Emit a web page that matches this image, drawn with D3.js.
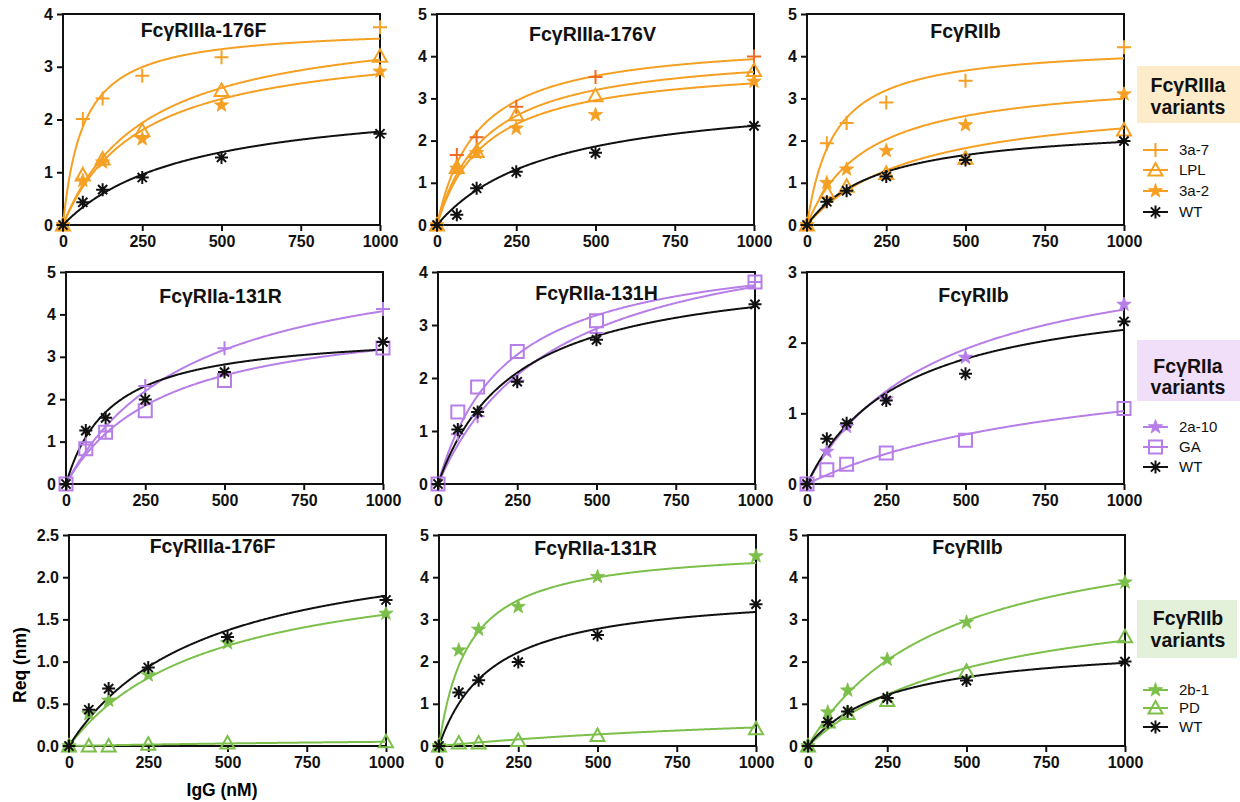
<!DOCTYPE html>
<html>
<head>
<meta charset="utf-8">
<script src="https://cdn.jsdelivr.net/npm/d3@7"></script>
<style>
  body { margin: 0; background: #fff; }
  svg { font-family: "Liberation Sans", Arial, sans-serif; }
</style>
</head>
<body>
<svg id="chart" width="1240" height="802"></svg>
<script>
// IgG concentrations (nM) and x ticks
const conc = [0, 62.5, 125, 250, 500, 1000];
const xTicks = [0, 250, 500, 750, 1000];

const panelTitles = ["FcγRIIIa-176F", "FcγRIIIa-176V", "FcγRIIb",
                     "FcγRIIa-131R", "FcγRIIa-131H", "FcγRIIb",
                     "FcγRIIIa-176F", "FcγRIIa-131R", "FcγRIIb"];
const panelYMax = [4, 5, 5, 5, 4, 3, 2.5, 5, 5];
const panelYStep = [1, 1, 1, 1, 1, 1, 0.5, 1, 1];

// row 1 : FcγRIIIa variants
const namesIIIa = ["3a-7", "LPL", "3a-2", "WT"];
const p176F = [[0, 2.01, 2.40, 2.83, 3.18, 3.75], [0, 0.95, 1.25, 1.79, 2.55, 3.20],
               [0, 0.84, 1.19, 1.63, 2.27, 2.91], [0, 0.43, 0.67, 0.90, 1.28, 1.73]];
const p176V = [[0, 1.66, 2.08, 2.80, 3.51, 3.99], [0, 1.36, 1.74, 2.61, 3.06, 3.66],
               [0, 1.34, 1.71, 2.29, 2.61, 3.40], [0, 0.24, 0.87, 1.26, 1.71, 2.35]];
const pIIb_a = [[0, 1.94, 2.42, 2.90, 3.42, 4.21], [0, 0.78, 0.92, 1.22, 1.58, 2.25],
                [0, 1.00, 1.32, 1.76, 2.37, 3.10], [0, 0.55, 0.81, 1.15, 1.54, 1.99]];
// one-site fits (Bmax, Kd)
const fit176F_bmax = [3.76, 3.95, 3.56, 2.47], fit176F_kd = [64, 260, 245, 395];
const fit176V_bmax = [4.43, 4.19, 3.88, 3.19], fit176V_kd = [127, 155, 156, 357];
const fitIIb_a_bmax = [4.29, 3.09, 3.56, 2.42], fitIIb_a_kd = [86, 348, 189, 230];

// row 2 : FcγRIIa variants
const namesIIa = ["2a-10", "GA", "WT"];
const p131R = [[0, 0.93, 1.24, 2.31, 3.20, 4.13], [0, 0.83, 1.22, 1.73, 2.44, 3.21],
               [0, 1.26, 1.56, 1.99, 2.64, 3.35]];
const p131H = [[0, 0.94, 1.28, 1.95, 2.85, 3.81], [0, 1.36, 1.83, 2.50, 3.08, 3.81],
               [0, 1.03, 1.36, 1.93, 2.72, 3.39]];
const pIIb_b = [[0, 0.46, 0.81, 1.20, 1.79, 2.54], [0, 0.20, 0.28, 0.44, 0.62, 1.07],
                [0, 0.64, 0.86, 1.18, 1.56, 2.30]];
const fit131R_bmax = [5.72, 4.16, 3.62], fit131R_kd = [403, 312, 142];
const fit131H_bmax = [5.10, 4.57, 4.16], fit131H_kd = [370, 218, 245];
const fitIIb_b_bmax = [3.49, 1.95, 2.84], fitIIb_b_kd = [414, 890, 302];

// row 3 : FcγRIIb variants
const namesIIb = ["2b-1", "PD", "WT"];
const q176F = [[0, 0.38, 0.54, 0.84, 1.22, 1.57], [0, 0.00, 0.00, 0.02, 0.035, 0.05],
               [0, 0.43, 0.68, 0.93, 1.29, 1.73]];
const q131R = [[0, 2.27, 2.76, 3.30, 4.01, 4.50], [0, 0.07, 0.07, 0.13, 0.25, 0.41],
               [0, 1.27, 1.56, 1.99, 2.63, 3.36]];
const qIIb = [[0, 0.80, 1.32, 2.05, 2.93, 3.88], [0, 0.57, 0.77, 1.08, 1.77, 2.59],
              [0, 0.57, 0.82, 1.14, 1.55, 2.00]];
const fitq176F_bmax = [2.26, 0.15, 2.54], fitq176F_kd = [451, 2000, 427];
const fitq131R_bmax = [4.74, 1.10, 3.71], fitq131R_kd = [93, 1500, 168];
const fitqIIb_bmax = [5.52, 3.85, 2.49], fitqIIb_kd = [429, 541, 264];

const ORANGE = "#f5a023", PURPLE = "#b77ee8", GREEN = "#7cc04b", BLACK = "#111";

const svg = d3.select("#chart");

// marker shapes
function markerPath(shape) {
  const p = d3.path();
  if (shape === "plus") {
    p.moveTo(-7, 0); p.lineTo(7, 0); p.moveTo(0, -7); p.lineTo(0, 7);
  } else if (shape === "triangle") {
    p.moveTo(0, -7); p.lineTo(7, 5.5); p.lineTo(-7, 5.5); p.closePath();
  } else if (shape === "square") {
    p.rect(-6.5, -6.5, 13, 13);
  } else if (shape === "asterisk") {
    for (let a = 0; a < 4; a++) {
      const t = a * Math.PI / 4;
      p.moveTo(-6.5 * Math.cos(t), -6.5 * Math.sin(t));
      p.lineTo(6.5 * Math.cos(t), 6.5 * Math.sin(t));
    }
  } else if (shape === "star") {
    for (let i = 0; i < 10; i++) {
      const r = i % 2 ? 3 : 7.5;
      const t = -Math.PI / 2 + i * Math.PI / 5;
      if (i === 0) p.moveTo(r * Math.cos(t), r * Math.sin(t));
      else p.lineTo(r * Math.cos(t), r * Math.sin(t));
    }
    p.closePath();
  }
  return p.toString();
}

function drawMarker(g, shape, color, x, y) {
  const filled = shape === "star";
  g.append("path")
    .attr("d", markerPath(shape))
    .attr("transform", `translate(${x},${y})`)
    .attr("fill", filled ? color : "none")
    .attr("stroke", color)
    .attr("stroke-width", filled ? 0.8 : 2);
}

// panel config
const panels = [
  { data: p176F, bmax: fit176F_bmax, kd: fit176F_kd, colors: [ORANGE, ORANGE, ORANGE, BLACK], shapes: ["plus", "triangle", "star", "asterisk"] },
  { data: p176V, bmax: fit176V_bmax, kd: fit176V_kd, colors: [ORANGE, ORANGE, ORANGE, BLACK], shapes: ["plus", "triangle", "star", "asterisk"], markerColor0: "#f26a24" },
  { data: pIIb_a, bmax: fitIIb_a_bmax, kd: fitIIb_a_kd, colors: [ORANGE, ORANGE, ORANGE, BLACK], shapes: ["plus", "triangle", "star", "asterisk"] },
  { data: p131R, bmax: fit131R_bmax, kd: fit131R_kd, colors: [PURPLE, PURPLE, BLACK], shapes: ["plus", "square", "asterisk"] },
  { data: p131H, bmax: fit131H_bmax, kd: fit131H_kd, colors: [PURPLE, PURPLE, BLACK], shapes: ["plus", "square", "asterisk"] },
  { data: pIIb_b, bmax: fitIIb_b_bmax, kd: fitIIb_b_kd, colors: [PURPLE, PURPLE, BLACK], shapes: ["star", "square", "asterisk"] },
  { data: q176F, bmax: fitq176F_bmax, kd: fitq176F_kd, colors: [GREEN, GREEN, BLACK], shapes: ["star", "triangle", "asterisk"] },
  { data: q131R, bmax: fitq131R_bmax, kd: fitq131R_kd, colors: [GREEN, GREEN, BLACK], shapes: ["star", "triangle", "asterisk"] },
  { data: qIIb, bmax: fitqIIb_bmax, kd: fitqIIb_kd, colors: [GREEN, GREEN, BLACK], shapes: ["star", "triangle", "asterisk"] }
];

// layout
const rowTop = [14, 272, 535], rowBottom = [225, 484, 746];
const colLeft = [[63, 437, 807], [66, 438, 807], [69, 439, 808]];
const plotW = 317;
const titleDx = [-18, -3, 0, -4, 0, 8, -15, -2, 1];
const titleDy = [23, 27, 24, 31, 28, 30, 18, 20, 19];

panels.forEach((pn, i) => {
  const row = Math.floor(i / 3), col = i % 3;
  const left = colLeft[row][col], top = rowTop[row], bottom = rowBottom[row];
  const x = d3.scaleLinear().domain([0, 1000]).range([left, left + plotW]);
  const y = d3.scaleLinear().domain([0, panelYMax[i]]).range([bottom, top]);
  const g = svg.append("g");

  const yTicks = d3.range(0, panelYMax[i] + 1e-9, panelYStep[i]);
  const fmt = panelYStep[i] < 1 ? d3.format(".1f") : d3.format("d");

  const yAxis = g.append("g").attr("transform", `translate(${left},0)`)
    .call(d3.axisLeft(y).tickValues(yTicks).tickFormat(fmt).tickSize(6).tickSizeOuter(0).tickPadding(4));
  const xAxis = g.append("g").attr("transform", `translate(0,${bottom})`)
    .call(d3.axisBottom(x).tickValues(xTicks).tickFormat(d3.format("d")).tickSize(6).tickSizeOuter(0).tickPadding(5));
  [yAxis, xAxis].forEach(a => {
    a.select(".domain").remove();
    a.selectAll("line").attr("stroke", BLACK).attr("stroke-width", 2);
    a.selectAll("text").attr("fill", BLACK).style("font-size", "16px").style("font-weight", "bold")
      .style("font-family", "'Liberation Sans', Arial, sans-serif");
  });

  // frame
  g.append("rect").attr("x", left).attr("y", top).attr("width", plotW).attr("height", bottom - top)
    .attr("fill", "none").attr("stroke", BLACK).attr("stroke-width", 2);

  // fitted curves
  const xs = d3.range(0, 1000.1, 2.5);
  const line = d3.line().x(d => x(d[0])).y(d => y(d[1]));
  pn.data.forEach((s, k) => {
    const pts = xs.map(c => [c, pn.bmax[k] * c / (pn.kd[k] + c)]);
    g.append("path").attr("d", line(pts)).attr("fill", "none")
      .attr("stroke", pn.colors[k]).attr("stroke-width", 2);
  });
  // data points
  pn.data.forEach((s, k) => {
    const mc = (k === 0 && pn.markerColor0) ? pn.markerColor0 : pn.colors[k];
    s.forEach((v, j) => drawMarker(g, pn.shapes[k], mc, x(conc[j]), y(v)));
  });

  g.append("text").attr("x", left + plotW / 2 + titleDx[i]).attr("y", top + titleDy[i])
    .attr("text-anchor", "middle").style("font-size", "19.5px").style("font-weight", "bold")
    .attr("fill", BLACK).text(panelTitles[i]);
});

// axis titles
svg.append("text").attr("transform", "translate(26,665) rotate(-90)").attr("text-anchor", "middle")
  .style("font-size", "17.5px").style("font-weight", "bold").text("Req (nm)");
svg.append("text").attr("x", 222).attr("y", 796).attr("text-anchor", "middle")
  .style("font-size", "17.5px").style("font-weight", "bold").text("IgG (nM)");

// legends
const legends = [
  { title: ["FcγRIIIa", "variants"], fill: "#fdebc9", box: [1137, 66, 103, 57], base: [92, 114],
    names: namesIIIa, colors: [ORANGE, ORANGE, ORANGE, BLACK], shapes: ["plus", "triangle", "star", "asterisk"], ys: [150, 170, 191, 212] },
  { title: ["FcγRIIa", "variants"], fill: "#f1def9", box: [1137, 340, 103, 61], base: [373, 394],
    names: namesIIa, colors: [PURPLE, PURPLE, BLACK], shapes: ["star", "square", "asterisk"], ys: [427, 447, 467] },
  { title: ["FcγRIIb", "variants"], fill: "#e3f0da", box: [1137, 600, 100, 58], base: [625, 647],
    names: namesIIb, colors: [GREEN, GREEN, BLACK], shapes: ["star", "triangle", "asterisk"], ys: [690, 708, 727] }
];

legends.forEach(lg => {
  const g = svg.append("g");
  g.append("rect").attr("x", lg.box[0]).attr("y", lg.box[1]).attr("width", lg.box[2]).attr("height", lg.box[3])
    .attr("fill", lg.fill);
  lg.title.forEach((t, k) => {
    g.append("text").attr("x", lg.box[0] + 51).attr("y", lg.base[k]).attr("text-anchor", "middle")
      .style("font-size", "19.5px").style("font-weight", "bold").attr("fill", BLACK).text(t);
  });
  lg.names.forEach((n, k) => {
    const yy = lg.ys[k];
    g.append("line").attr("x1", 1143).attr("x2", 1168).attr("y1", yy).attr("y2", yy)
      .attr("stroke", lg.colors[k]).attr("stroke-width", 2);
    drawMarker(g, lg.shapes[k], lg.colors[k], 1155.5, yy);
    g.append("text").attr("x", 1179).attr("y", yy + 5).style("font-size", "15px")
      .attr("fill", BLACK).text(n);
  });
});
</script>
</body>
</html>
